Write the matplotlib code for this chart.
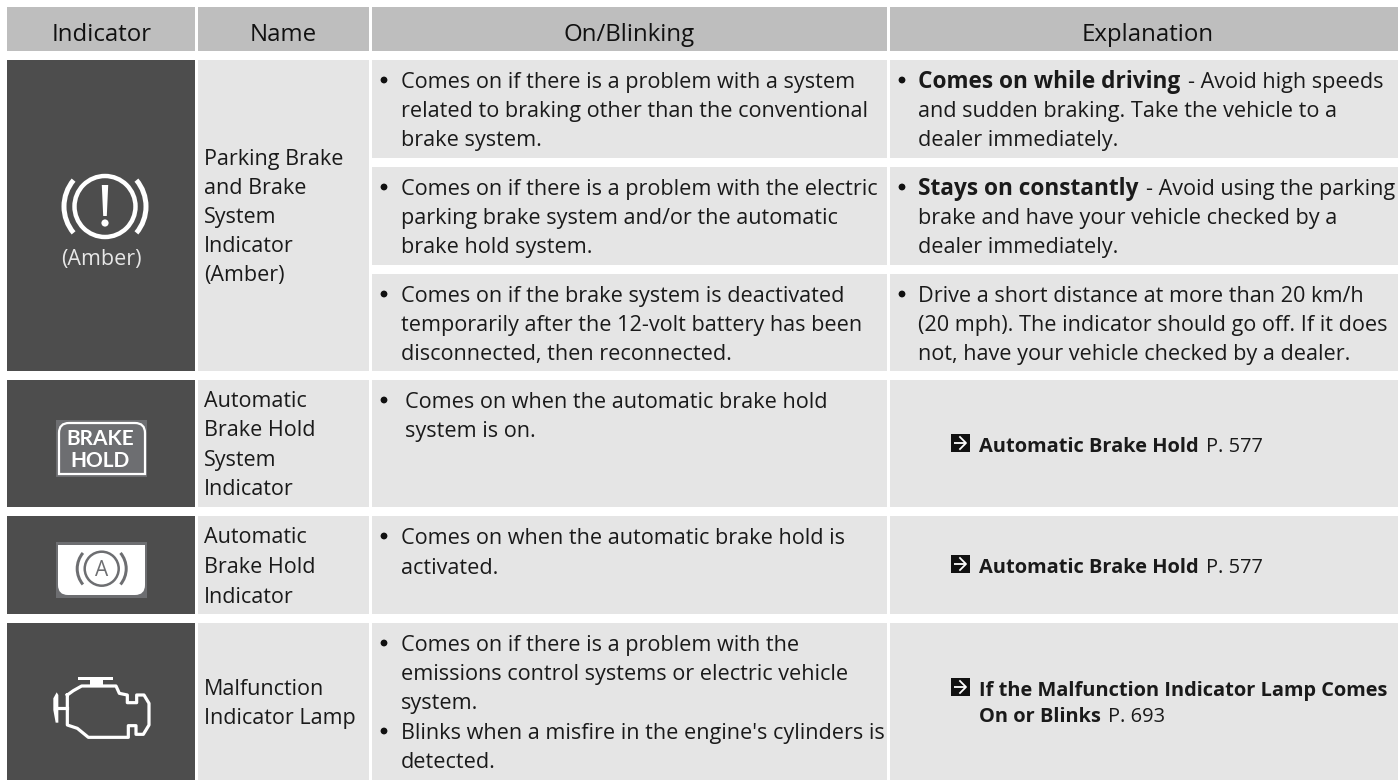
import matplotlib
matplotlib.use("Agg")
import matplotlib.pyplot as plt
from matplotlib.patches import Rectangle, Circle, Wedge, Polygon
from matplotlib.path import Path
from matplotlib.patches import PathPatch

plt.rcParams['font.family'] = ['Open Sans', 'DejaVu Sans']

HEADER_BG = '#bebebe'
CELL_BG = '#e5e5e5'
DARK_BG = '#4d4d4d'
ICON_GRAY = '#6d6e71'
TEXT = '#1a1a1a'
FS = 15.55
FS_NAME = 15.5
FS_HEAD = 17.3
FS_BOLD = 16.3
FS_REF = 14.4

headers = ['Indicator', 'Name', 'On/Blinking', 'Explanation']
names = [
    ['Parking Brake', 'and Brake', 'System', 'Indicator', '(Amber)'],
    ['Automatic', 'Brake Hold', 'System', 'Indicator'],
    ['Automatic', 'Brake Hold', 'Indicator'],
    ['Malfunction', 'Indicator Lamp'],
]
on_blinking = [
    [['Comes on if there is a problem with a system', 'related to braking other than the conventional', 'brake system.']],
    [['Comes on if there is a problem with the electric', 'parking brake system and/or the automatic', 'brake hold system.']],
    [['Comes on if the brake system is deactivated', 'temporarily after the 12-volt battery has been', 'disconnected, then reconnected.']],
    [['Comes on when the automatic brake hold', 'system is on.']],
    [['Comes on when the automatic brake hold is', 'activated.']],
    [['Comes on if there is a problem with the', 'emissions control systems or electric vehicle', 'system.'],
     ["Blinks when a misfire in the engine's cylinders is", 'detected.']],
]
# (bold start, rest of first line), following lines
explanation = [
    ('Comes on while driving', '- Avoid high speeds', ['and sudden braking. Take the vehicle to a', 'dealer immediately.']),
    ('Stays on constantly', '- Avoid using the parking', ['brake and have your vehicle checked by a', 'dealer immediately.']),
    ('', 'Drive a short distance at more than 20 km/h', ['(20 mph). The indicator should go off. If it does', 'not, have your vehicle checked by a dealer.']),
]
amber_label = '(Amber)'
brake_hold_icon = ['BRAKE', 'HOLD']
refs = [
    (['Automatic Brake Hold'], 'P. 577'),
    (['Automatic Brake Hold'], 'P. 577'),
    (['If the Malfunction Indicator Lamp Comes', 'On or Blinks'], 'P. 693'),
]

fig = plt.figure(figsize=(13.98, 7.8), dpi=100)
ax = fig.add_axes([0, 0, 1, 1])
ax.set_xlim(0, 1398)
ax.set_ylim(780, 0)
ax.axis('off')


def box(x0, y0, x1, y1, color):
    ax.add_patch(Rectangle((x0, y0), x1 - x0, y1 - y0, fc=color, ec='none', lw=0))


def put(x, y, s, **kw):
    kw.setdefault('fontsize', FS)
    kw.setdefault('color', TEXT)
    return ax.text(x, y, s, va='baseline', **kw)


def runs(x, y, bold, rest, fs_bold, fs_rest, gap):
    # bold part then regular part on one baseline
    if bold:
        t = put(x, y, bold, fontweight='bold', fontsize=fs_bold)
        x = t.get_window_extent(fig.canvas.get_renderer()).x1 + gap
    put(x, y, rest, fontsize=fs_rest)


def bullet(x, y):
    ax.add_patch(Circle((x, y), 3.4, fc='#111111', ec='none'))


def arrow_icon(x, y):
    box(x, y, x + 19, y + 18, '#111111')
    ax.plot([x + 3, x + 15], [y + 9, y + 9], color='white', lw=1.3, solid_capstyle='butt')
    ax.plot([x + 9, x + 15, x + 9], [y + 3, y + 9, y + 15], color='white', lw=1.3)


col_x = [(7, 195), (198, 369), (372, 887), (890, 1398)]
head_cx = [101.5, 283, 629, 1147.5]
rows_y = [(60, 158), (167, 265), (274, 371), (380, 507), (516, 614), (623, 780)]

# header band
for (x0, x1), cx, h in zip(col_x, head_cx, headers):
    box(x0, 7, x1, 51, HEADER_BG)
    put(cx, 41, h, ha='center', fontsize=FS_HEAD, color='#111111')

# dark indicator cells and name cells span the three first rows
for (y0, y1) in [(60, 371), (380, 507), (516, 614), (623, 780)]:
    box(7, y0, 195, y1, DARK_BG)
    box(198, y0, 369, y1, CELL_BG)
for (y0, y1) in rows_y:
    box(372, y0, 887, y1, CELL_BG)
    box(890, y0, 1398, y1, CELL_BG)

# name column
name_base = [[165, 194, 223, 252, 281], [407, 436, 466, 495], [543, 573, 603], [695, 724]]
for lines, bases in zip(names, name_base):
    for s, b in zip(lines, bases):
        put(204, b, s, fontsize=FS_NAME)

# on/blinking column
on_base = [[88, 117, 146], [195, 224, 253], [302, 331, 360], [408, 437], [544, 574], [651, 680, 709, 739, 768]]
for r, groups in enumerate(on_blinking):
    k = 0
    text_x = 405 if r == 3 else 401
    for group in groups:
        bullet(384, on_base[r][k] - 8)
        for s in group:
            put(text_x, on_base[r][k], s)
            k += 1

# explanation column
for r, (bold, rest, more) in enumerate(explanation):
    bullet(902, on_base[r][0] - 8)
    runs(918, on_base[r][0], bold, rest, FS_BOLD, FS, 8)
    for s, b in zip(more, on_base[r][1:]):
        put(918, b, s)

# cross references
ref_base = [[452], [573], [696, 722]]
for (lines, page), bases in zip(refs, ref_base):
    arrow_icon(951, bases[0] - 18)
    for i, (s, b) in enumerate(zip(lines, bases)):
        if i == len(lines) - 1:
            runs(979, b, s, page, FS_REF, FS_REF, 7)
        else:
            put(979, b, s, fontweight='bold', fontsize=FS_REF)

# brake system icon
cx, cy = 105, 206.5
ax.add_patch(Circle((cx, cy), 30.5, fc='none', ec='white', lw=3.2))
ax.add_patch(Wedge((cx, cy), 43.5, 140, 220, width=5, fc='white', ec='none'))
ax.add_patch(Wedge((cx, cy), 43.5, -40, 40, width=5, fc='white', ec='none'))
ax.add_patch(Polygon([[cx - 3.2, 185], [cx + 3.2, 185], [cx + 1.8, 216], [cx - 1.8, 216]], fc='white', ec='none'))
ax.add_patch(Circle((cx, 223), 3.6, fc='white', ec='none'))
put(101, 265, amber_label, ha='center', color='#e6e6e6', fontsize=FS_NAME)

# brake hold icon
box(56, 420, 147, 477, ICON_GRAY)
vs = [(59, 474), (59, 433), (59, 423), (69, 423), (135, 423), (145, 423), (145, 433), (145, 474), (59, 474)]
cs = [Path.MOVETO, Path.LINETO, Path.CURVE3, Path.CURVE3, Path.LINETO, Path.CURVE3, Path.CURVE3, Path.LINETO, Path.CLOSEPOLY]
ax.add_patch(PathPatch(Path(vs, cs), fc='none', ec='white', lw=1.6))
for s, b in zip(brake_hold_icon, [445, 467]):
    put(100, b, s, ha='center', color='white', fontweight='bold', fontsize=15, family=['Lato', 'DejaVu Sans'])

# auto hold icon
box(56, 542, 147, 598, ICON_GRAY)
vs = [(58, 545), (145, 545), (145, 585), (145, 595), (135, 595), (68, 595), (58, 595), (58, 585), (58, 545)]
cs = [Path.MOVETO, Path.LINETO, Path.LINETO, Path.CURVE3, Path.CURVE3, Path.LINETO, Path.CURVE3, Path.CURVE3, Path.CLOSEPOLY]
ax.add_patch(PathPatch(Path(vs, cs), fc='white', ec='none'))
ax.add_patch(Circle((101.7, 568.7), 17, fc='none', ec=ICON_GRAY, lw=1.8))
ax.add_patch(Wedge((101.7, 568.7), 26, 140, 220, width=3, fc=ICON_GRAY, ec='none'))
ax.add_patch(Wedge((101.7, 568.7), 26, -40, 40, width=3, fc=ICON_GRAY, ec='none'))
put(101.7, 576, 'A', ha='center', color=ICON_GRAY, fontsize=15)

# engine icon, outline traced in a 3x crop of the cell
def eng(p):
    return 40 + p[0] / 3, 660 + p[1] / 3


body = [(82, 105), (100, 92), (125, 78), (228, 78), (238, 100), (262, 105), (262, 128), (290, 128), (290, 105),
        (312, 105), (327, 130), (327, 195), (310, 223), (288, 223), (288, 197), (265, 197), (265, 232), (145, 232),
        (112, 205), (82, 195), (82, 105)]
xs, ys = zip(*[eng(p) for p in body])
ax.plot(xs, ys, color='white', lw=2.3, solid_joinstyle='round')
ax.add_patch(Polygon([eng(p) for p in [(115, 50), (218, 50), (218, 59), (188, 59), (188, 75), (150, 75), (150, 59), (115, 59)]], fc='white', ec='none'))
ax.add_patch(Polygon([eng(p) for p in [(50, 97), (55, 105), (55, 188), (47, 188), (40, 150), (40, 115)]], fc='white', ec='none'))
xs, ys = zip(*[eng(p) for p in [(55, 143), (82, 143)]])
ax.plot(xs, ys, color='white', lw=2.3)

fig.savefig('out.png', dpi=100)
